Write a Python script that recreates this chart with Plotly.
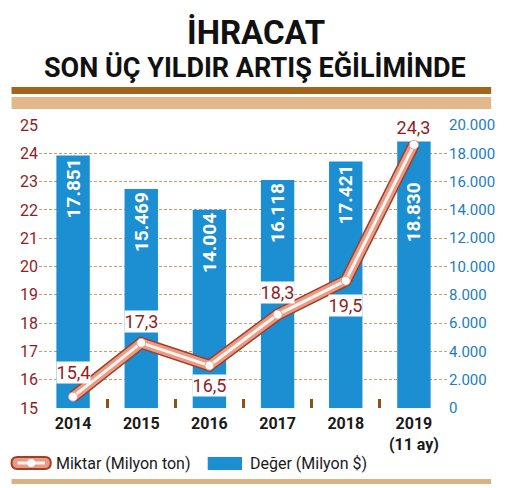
import plotly.graph_objects as go

years = ["2014", "2015", "2016", "2017", "2018", "2019<br>(11 ay)"]
deger = [17851, 15469, 14004, 16118, 17421, 18830]        # Milyon $
miktar = [15.4, 17.3, 16.5, 18.3, 19.5, 24.3]               # Milyon ton
miktar_labels = ["15,4", "17,3", "16,5", "18,3", "19,5", "24,3"]
label_shift = [24, 21, -20, 22, -25, 17]                    # px above (+) / below (-) the point
bar_pad = [0, 0, 0, 0, 0, 8]                                # push the 2019 label below the line

FONT = "Roboto, Liberation Sans, sans-serif"
BLUE = "#1b8fd2"
RED = "#931c24"
BROWN = "#a5641c"
TAN = "#e2b98c"

# plot area in reference pixels; the page body adds an 8px offset
OFF = 8
W, H = 507 - OFF, 488 - OFF
L, R, T, B = 33, 450, 125, 408


def px(x):
    return (x - L) / (R - L)


def py(y):
    return (B - y) / (B - T)


bar_text = [f"{v:,}".replace(",", ".") + "\u00a0" * p for v, p in zip(deger, bar_pad)]

fig = go.Figure()

fig.add_trace(go.Bar(
    x=years, y=deger, yaxis="y", width=0.49,
    marker=dict(color=BLUE, line_width=0),
    text=bar_text, texttemplate="%{text}", textposition="inside", insidetextanchor="end",
    textangle=-90, textfont=dict(family=FONT, size=19, color="white", weight="bold"),
    cliponaxis=False, showlegend=False,
))

# tube-like line: dark rim, salmon body, white highlight
for w, c in [(12, "#a33e2a"), (9, "#e79c86"), (3, "#fff4ef")]:
    fig.add_trace(go.Scatter(
        x=years, y=miktar, yaxis="y2", mode="lines",
        line=dict(color=c, width=w), showlegend=False, hoverinfo="skip",
    ))
fig.add_trace(go.Scatter(
    x=years, y=miktar, yaxis="y2", mode="markers",
    marker=dict(color="white", size=9, line=dict(color="#e0a090", width=1)),
    showlegend=False,
))

for i, (v, t) in enumerate(zip(miktar, miktar_labels)):
    fig.add_annotation(
        x=i, y=v, xref="x", yref="y2", text=t, showarrow=False,
        yshift=label_shift[i], width=33, height=21, align="center",
        bgcolor="white" if i < 5 else "rgba(0,0,0,0)",
        borderpad=0, font=dict(family=FONT, size=18, color=RED),
    )

shapes = [
    dict(type="rect", xref="paper", yref="paper", x0=px(5), x1=px(494), y0=py(94), y1=py(87),
         fillcolor=BROWN, line_width=0),
    dict(type="rect", xref="paper", yref="paper", x0=px(5), x1=px(494), y0=py(109), y1=py(97),
         fillcolor=TAN, line_width=0),
    dict(type="rect", xref="paper", yref="paper", x0=px(5), x1=px(494), y0=py(484), y1=py(479),
         fillcolor="#d9b384", line_width=0),
    # legend icons
    dict(type="path", xref="paper", yref="paper",
         path="M {a},{t} L {b},{t} Q {r},{t} {r},{m} Q {r},{bt} {b},{bt} L {a},{bt} Q {l},{bt} {l},{m} Q {l},{t} {a},{t} Z".format(
             a=px(11), b=px(39), l=px(5), r=px(45), t=py(457), bt=py(469), m=py(463)),
         fillcolor="#e79c86", line=dict(color="#a33e2a", width=2)),
    dict(type="line", xref="paper", yref="paper", x0=px(11), x1=px(39), y0=py(463), y1=py(463),
         line=dict(color="#fff4ef", width=3)),
    dict(type="circle", xref="paper", yref="paper", x0=px(21), x1=px(29), y0=py(467), y1=py(459),
         fillcolor="white", line_width=0),
    dict(type="rect", xref="paper", yref="paper", x0=px(205), x1=px(240), y0=py(470), y1=py(457),
         fillcolor=BLUE, line_width=0),
]

annotations = [
    dict(xref="paper", yref="paper", x=px(254), y=py(32), xanchor="center", yanchor="middle",
         text="<b>İHRACAT</b>", showarrow=False, font=dict(family=FONT, size=33, color="#111")),
    dict(xref="paper", yref="paper", x=px(253), y=py(67), xanchor="center", yanchor="middle",
         text="<b>SON ÜÇ YILDIR ARTIŞ EĞİLİMİNDE</b>", showarrow=False,
         font=dict(family=FONT, size=27, color="#111")),
    dict(xref="paper", yref="paper", x=px(48), y=py(463), xanchor="left", yanchor="middle",
         text="Miktar (Milyon ton)", showarrow=False, font=dict(family=FONT, size=16, color="#1a1a1a")),
    dict(xref="paper", yref="paper", x=px(246), y=py(463), xanchor="left", yanchor="middle",
         text="Değer (Milyon $)", showarrow=False, font=dict(family=FONT, size=16, color="#1a1a1a")),
]
for a in annotations:
    fig.add_annotation(**a)

fig.update_layout(
    width=W, height=H,
    margin=dict(l=L - OFF, r=W - (R - OFF), t=T - OFF, b=H - (B - OFF)),
    paper_bgcolor="white", plot_bgcolor="white",
    separators=",.",
    shapes=shapes,
    xaxis=dict(
        type="category", range=[-0.5, 5.5], showline=False, showgrid=False,
        ticks="inside", tickson="boundaries", ticklen=9, tickwidth=3, tickcolor="#8a5318",
        tickangle=0, ticklabelstandoff=4,
        tickfont=dict(family=FONT, size=16, color="#1a1a1a", weight="bold"),
    ),
    yaxis=dict(
        side="right", range=[0, 20000], dtick=2000, tickformat=",d",
        showgrid=True, gridcolor="#c9a06c", griddash="3px,2px", gridwidth=1,
        zeroline=False, showline=False, ticks="",
        tickfont=dict(family=FONT, size=15, color="#1b7dc0"),
    ),
    yaxis2=dict(
        side="left", overlaying="y", range=[15, 25], dtick=1,
        showgrid=False, zeroline=False, showline=False, ticks="",
        tickfont=dict(family=FONT, size=16, color=RED),
    ),
)

fig.write_html("out.html")
